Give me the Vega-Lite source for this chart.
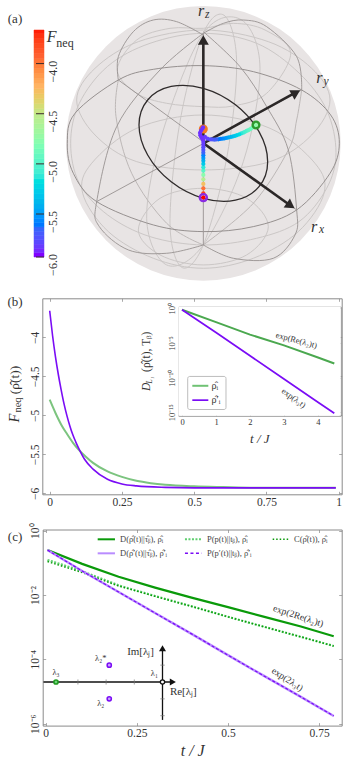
{"$schema":"https://vega.github.io/schema/vega-lite/v6.json","width":353,"height":764,"padding":0,"autosize":"none","background":"white",
"config":{"view":{"stroke":null},"axis":{"zindex":1,"grid":false,"title":null,"domainColor":"#8a8a8a","domainWidth":1,"tickColor":"#aaaaaa","tickSize":-3,"labelFont":"Liberation Serif","labelFontSize":11.5,"labelColor":"#333333","labelOverlap":false,"labelFlush":false,"labelBound":false},"text":{"font":"Liberation Serif","color":"#333333"}},
"resolve":{"scale":{"x":"independent","y":"independent","color":"independent","stroke":"independent"},"axis":{"x":"independent","y":"independent"}},
"layer":[
{"encoding":{"x":{"field":"x","type":"quantitative","axis":null,"scale":{"domain":[-412,412],"range":[66,340.67],"zero":false,"nice":false}},"y":{"field":"y","type":"quantitative","axis":null,"scale":{"domain":[-412,412],"range":[280.6,6],"zero":false,"nice":false}}},
"layer":[
{"data":{"values":[{"x":0,"y":0}]},"mark":{"type":"point","shape":"circle","filled":true,"size":75444,"color":"#e8e4e4","opacity":1}},
{"data":{"values":[
{"c":"up","x":0,"y":345},{"c":"up","x":90,"y":360},{"c":"up","x":185,"y":340},{"c":"up","x":262,"y":270},{"c":"up","x":190,"y":150},{"c":"up","x":90,"y":112},{"c":"up","x":0,"y":110},{"c":"up","x":-110,"y":120},{"c":"up","x":-200,"y":150},{"c":"up","x":-258,"y":220},{"c":"up","x":-200,"y":310},{"c":"up","x":-100,"y":345},
{"c":"lo","x":0,"y":-135},{"c":"lo","x":130,"y":-165},{"c":"lo","x":195,"y":-250},{"c":"lo","x":130,"y":-335},{"c":"lo","x":0,"y":-365},{"c":"lo","x":-130,"y":-335},{"c":"lo","x":-195,"y":-260},{"c":"lo","x":-130,"y":-165},
{"c":"lat1","x":0,"y":340},{"c":"lat1","x":195,"y":305},{"c":"lat1","x":325,"y":225},{"c":"lat1","x":380,"y":130},{"c":"lat1","x":325,"y":25},{"c":"lat1","x":200,"y":-55},{"c":"lat1","x":0,"y":-80},{"c":"lat1","x":-200,"y":-55},{"c":"lat1","x":-325,"y":25},{"c":"lat1","x":-380,"y":130},{"c":"lat1","x":-325,"y":225},{"c":"lat1","x":-195,"y":305},
{"c":"lat2","x":0,"y":85},{"c":"lat2","x":200,"y":45},{"c":"lat2","x":335,"y":-60},{"c":"lat2","x":362,"y":-150},{"c":"lat2","x":285,"y":-265},{"c":"lat2","x":150,"y":-345},{"c":"lat2","x":0,"y":-375},{"c":"lat2","x":-150,"y":-345},{"c":"lat2","x":-285,"y":-265},{"c":"lat2","x":-362,"y":-150},{"c":"lat2","x":-335,"y":-60},{"c":"lat2","x":-200,"y":45},
{"c":"m45","x":0,"y":330},{"c":"m45","x":160,"y":300},{"c":"m45","x":287,"y":211},{"c":"m45","x":370,"y":100},{"c":"m45","x":398,"y":-28},{"c":"m45","x":370,"y":-135},{"c":"m45","x":287,"y":-235},{"c":"m45","x":160,"y":-285},{"c":"m45","x":0,"y":-305},{"c":"m45","x":-160,"y":-280},{"c":"m45","x":-287,"y":-215},{"c":"m45","x":-372,"y":-120},{"c":"m45","x":-398,"y":0},{"c":"m45","x":-372,"y":120},{"c":"m45","x":-287,"y":231},{"c":"m45","x":-160,"y":300},
{"c":"e1","x":0,"y":330},{"c":"e1","x":65,"y":382},{"c":"e1","x":100,"y":240},{"c":"e1","x":70,"y":-45},{"c":"e1","x":0,"y":-305},{"c":"e1","x":-65,"y":-372},{"c":"e1","x":-100,"y":-240},{"c":"e1","x":-70,"y":65},
{"c":"e2","x":0,"y":330},{"c":"e2","x":115,"y":370},{"c":"e2","x":170,"y":225},{"c":"e2","x":120,"y":-55},{"c":"e2","x":0,"y":-305},{"c":"e2","x":-110,"y":-365},{"c":"e2","x":-170,"y":-225},{"c":"e2","x":-120,"y":40}
]},"mark":{"type":"line","interpolate":"cardinal-closed","tension":0,"stroke":"#cbc7c6","strokeWidth":1},"encoding":{"detail":{"field":"c"},"order":{"value":null}}},
{"data":{"values":[
{"c":"b","x":-255,"y":190},{"c":"b","x":-262,"y":80},{"c":"b","x":-215,"y":-90},{"c":"b","x":-110,"y":-240},{"c":"b","x":0,"y":-305},
{"c":"y2","x":295,"y":160},{"c":"y2","x":280,"y":70},{"c":"y2","x":255,"y":-20},{"c":"y2","x":150,"y":-180},{"c":"y2","x":0,"y":-305}
]},"mark":{"type":"line","interpolate":"cardinal","tension":0,"stroke":"#bdb8b7","strokeWidth":1},"encoding":{"detail":{"field":"c"},"order":{"value":null}}},
{"data":{"values":[{"x":-408,"y":0},{"x":-385,"y":90},{"x":-255,"y":190},{"x":-150,"y":222},{"x":0,"y":233},{"x":150,"y":215},{"x":295,"y":160},{"x":382,"y":85},{"x":408,"y":0},{"x":380,"y":-90},{"x":280,"y":-200},{"x":150,"y":-250},{"x":0,"y":-265},{"x":-150,"y":-245},{"x":-320,"y":-175},{"x":-390,"y":-90}]},"mark":{"type":"line","interpolate":"cardinal-closed","tension":0,"stroke":"#8c8786","strokeWidth":0.9},"encoding":{"order":{"value":null}}},
{"data":{"values":[
{"c":"x1","x":0,"y":325},{"c":"x1","x":-80,"y":365},{"c":"x1","x":-150,"y":370},{"c":"x1","x":-210,"y":335},{"c":"x1","x":-255,"y":260},{"c":"x1","x":-255,"y":190},
{"c":"x2","x":0,"y":335},{"c":"x2","x":110,"y":230},{"c":"x2","x":190,"y":110},{"c":"x2","x":255,"y":-20},{"c":"x2","x":280,"y":-200},{"c":"x2","x":275,"y":-275},{"c":"x2","x":210,"y":-345},{"c":"x2","x":90,"y":-345},{"c":"x2","x":0,"y":-305},
{"c":"y1","x":0,"y":330},{"c":"y1","x":60,"y":360},{"c":"y1","x":120,"y":370},{"c":"y1","x":190,"y":350},{"c":"y1","x":280,"y":260},{"c":"y1","x":295,"y":160},
{"c":"y3","x":0,"y":330},{"c":"y3","x":-130,"y":220},{"c":"y3","x":-260,"y":50},{"c":"y3","x":-320,"y":-175},{"c":"y3","x":-312,"y":-250},{"c":"y3","x":-225,"y":-320},{"c":"y3","x":-110,"y":-330},{"c":"y3","x":0,"y":-305},
{"c":"lz","x":0,"y":330},{"c":"lz","x":0,"y":-305},
{"c":"lx","x":-255,"y":190},{"c":"lx","x":280,"y":-200},
{"c":"ly","x":-320,"y":-175},{"c":"ly","x":295,"y":160}
]},"mark":{"type":"line","interpolate":"cardinal","tension":0,"stroke":"#979291","strokeWidth":0.9},"encoding":{"detail":{"field":"c"},"order":{"value":null}}},
{"data":{"values":[{"x":193,"y":-55},{"x":167,"y":35},{"x":96.5,"y":115.5},{"x":0,"y":165},{"x":-96.5,"y":170.5},{"x":-167,"y":130},{"x":-193,"y":55},{"x":-167,"y":-35},{"x":-96.5,"y":-115.5},{"x":0,"y":-165},{"x":96.5,"y":-170.5},{"x":167,"y":-130}]},"mark":{"type":"line","interpolate":"cardinal-closed","tension":0,"stroke":"#2f2b2b","strokeWidth":1.3},"encoding":{"order":{"value":null}}},
{"data":{"values":[{"x":0,"y":0,"x2":0,"y2":300},{"x":0,"y":0,"x2":272,"y2":150},{"x":0,"y":0,"x2":255,"y2":-182}]},"mark":{"type":"rule","stroke":"#2b2727","strokeWidth":2.6},"encoding":{"x2":{"field":"x2"},"y2":{"field":"y2"}}},
{"data":{"values":[{"x":0,"y":310}]},"mark":{"type":"point","shape":"triangle-up","filled":true,"size":120,"color":"#2b2727","opacity":1}},
{"data":{"values":[{"x":278,"y":152}]},"mark":{"type":"point","shape":"triangle-up","filled":true,"size":120,"angle":61,"color":"#2b2727","opacity":1}},
{"data":{"values":[{"x":262,"y":-187}]},"mark":{"type":"point","shape":"triangle-up","filled":true,"size":120,"angle":125,"color":"#2b2727","opacity":1}},
{"data":{"values":[{"x":0,"y":43}]},"mark":{"type":"point","shape":"circle","filled":true,"size":81,"color":"#f47a1f","opacity":1}},
{"data":{"values":[
{"x":0,"y":-163,"f":-3.66},{"x":0,"y":-150,"f":-3.8},{"x":0,"y":-135,"f":-4.0},{"x":0,"y":-122,"f":-4.3},{"x":0,"y":-108,"f":-4.6},{"x":0,"y":-95,"f":-4.8},{"x":0,"y":-82,"f":-5.0},{"x":0,"y":-72,"f":-5.15},{"x":0,"y":-62,"f":-5.3},{"x":0,"y":-52,"f":-5.42},{"x":0,"y":-44,"f":-5.52},{"x":0,"y":-36,"f":-5.6},{"x":0,"y":-28,"f":-5.7},{"x":0,"y":-20,"f":-5.78},{"x":0,"y":-12,"f":-5.83},{"x":0,"y":-4,"f":-5.88},{"x":0,"y":4,"f":-5.9},{"x":-2,"y":12,"f":-5.93},{"x":-6,"y":18,"f":-5.93},{"x":-9,"y":24,"f":-5.93},{"x":-10,"y":31,"f":-5.93},{"x":-7,"y":38,"f":-5.93},{"x":-3,"y":44,"f":-5.93},{"x":-1,"y":48,"f":-5.93},
{"x":158,"y":55,"f":-4.75},{"x":153,"y":51,"f":-4.8},{"x":149,"y":48,"f":-4.84},{"x":144,"y":45,"f":-4.88},{"x":140,"y":42,"f":-4.92},{"x":135,"y":39.5,"f":-4.97},{"x":130,"y":37,"f":-5.01},{"x":125,"y":34.5,"f":-5.06},{"x":120,"y":32,"f":-5.1},{"x":114,"y":29.5,"f":-5.15},{"x":108,"y":27,"f":-5.2},{"x":101,"y":24.5,"f":-5.26},{"x":95,"y":22,"f":-5.3},{"x":89,"y":20.5,"f":-5.35},{"x":83,"y":19,"f":-5.4},{"x":76,"y":17.5,"f":-5.45},{"x":70,"y":16,"f":-5.5},{"x":64,"y":15,"f":-5.54},{"x":58,"y":14,"f":-5.58},{"x":51,"y":13,"f":-5.62},{"x":45,"y":12,"f":-5.66},{"x":39,"y":11.5,"f":-5.7},{"x":33,"y":11,"f":-5.74},{"x":26,"y":11.5,"f":-5.78},{"x":20,"y":12,"f":-5.82},{"x":12,"y":14,"f":-5.86},{"x":5,"y":19,"f":-5.9}
]},"mark":{"type":"point","shape":"circle","filled":true,"size":18,"opacity":1},"encoding":{"color":{"field":"f","type":"quantitative","legend":null,"scale":{"domain":[-6,-5.708,-5.416,-5.124,-4.833,-4.541,-4.249,-3.957,-3.665],"range":["#8000ff","#4062fa","#00b5ec","#40ecd4","#80ffb4","#bfec8e","#ffb462","#ff6232","#ff0000"]}}}},
{"data":{"values":[{"x":0,"y":-163}]},"mark":{"type":"point","shape":"circle","filled":false,"size":50,"stroke":"#8a2be2","strokeWidth":2.4,"opacity":1}},
{"data":{"values":[{"x":158,"y":55}]},"mark":{"type":"point","shape":"circle","filled":false,"size":45,"stroke":"#2e9b2e","strokeWidth":2.4,"opacity":1}},
{"data":{"values":[{"x":-7,"y":396,"text":"r"},{"x":348,"y":195,"text":"r"},{"x":332,"y":-250,"text":"r"},{"x":-455,"y":320,"text":"F"}]},"mark":{"type":"text","fontStyle":"italic","fontSize":16,"align":"center","baseline":"middle"},"encoding":{"text":{"field":"text"}}},
{"data":{"values":[{"x":12,"y":385,"text":"z"},{"x":368,"y":183,"text":"y"},{"x":355,"y":-260,"text":"x"}]},"mark":{"type":"text","fontStyle":"italic","fontSize":11.5,"align":"center","baseline":"middle"},"encoding":{"text":{"field":"text"}}},
{"data":{"values":[{"x":-415,"y":302,"text":"neq"}]},"mark":{"type":"text","fontSize":12,"align":"center","baseline":"middle"},"encoding":{"text":{"field":"text"}}},
{"data":{"values":[{"x":-565,"y":373,"text":"(a)"}]},"mark":{"type":"text","fontSize":13,"align":"center","baseline":"middle"},"encoding":{"text":{"field":"text"}}}
]},
{"encoding":{"y":{"field":"f","type":"quantitative","axis":null,"scale":{"domain":[-6,-5.5,-3.665],"range":[257,214,30],"zero":false,"nice":false}}},
"layer":[
{"data":{"values":[{"f":-6,"g":-5.95},{"f":-5.95,"g":-5.9},{"f":-5.9,"g":-5.85},{"f":-5.85,"g":-5.8},{"f":-5.8,"g":-5.75},{"f":-5.75,"g":-5.7},{"f":-5.7,"g":-5.65},{"f":-5.65,"g":-5.6},{"f":-5.6,"g":-5.55},{"f":-5.55,"g":-5.5},{"f":-5.5,"g":-5.45},{"f":-5.45,"g":-5.4},{"f":-5.4,"g":-5.35},{"f":-5.35,"g":-5.3},{"f":-5.3,"g":-5.25},{"f":-5.25,"g":-5.2},{"f":-5.2,"g":-5.15},{"f":-5.15,"g":-5.1},{"f":-5.1,"g":-5.05},{"f":-5.05,"g":-5},{"f":-5,"g":-4.95},{"f":-4.95,"g":-4.9},{"f":-4.9,"g":-4.85},{"f":-4.85,"g":-4.8},{"f":-4.8,"g":-4.75},{"f":-4.75,"g":-4.7},{"f":-4.7,"g":-4.65},{"f":-4.65,"g":-4.6},{"f":-4.6,"g":-4.55},{"f":-4.55,"g":-4.5},{"f":-4.5,"g":-4.45},{"f":-4.45,"g":-4.4},{"f":-4.4,"g":-4.35},{"f":-4.35,"g":-4.3},{"f":-4.3,"g":-4.25},{"f":-4.25,"g":-4.2},{"f":-4.2,"g":-4.15},{"f":-4.15,"g":-4.1},{"f":-4.1,"g":-4.05},{"f":-4.05,"g":-4},{"f":-4,"g":-3.95},{"f":-3.95,"g":-3.9},{"f":-3.9,"g":-3.85},{"f":-3.85,"g":-3.8},{"f":-3.8,"g":-3.75},{"f":-3.75,"g":-3.7},{"f":-3.7,"g":-3.665}]},
"mark":{"type":"rect","strokeWidth":0.5},"encoding":{"x":{"datum":0,"type":"quantitative","axis":null,"scale":{"domain":[0,1],"range":[34,44],"zero":false,"nice":false}},"x2":{"datum":1},"y2":{"field":"g"},
"color":{"field":"f","type":"quantitative","legend":null,"scale":{"domain":[-6,-5.708,-5.416,-5.124,-4.833,-4.541,-4.249,-3.957,-3.665],"range":["#8000ff","#4062fa","#00b5ec","#40ecd4","#80ffb4","#bfec8e","#ffb462","#ff6232","#ff0000"]}},
"stroke":{"field":"f","type":"quantitative","legend":null,"scale":{"domain":[-6,-5.708,-5.416,-5.124,-4.833,-4.541,-4.249,-3.957,-3.665],"range":["#8000ff","#4062fa","#00b5ec","#40ecd4","#80ffb4","#bfec8e","#ffb462","#ff6232","#ff0000"]}}}},
{"data":{"values":[{"f":-4},{"f":-4.5},{"f":-5},{"f":-5.5},{"f":-6}]},"mark":{"type":"rule","stroke":"#3a2a2a","strokeWidth":1},"encoding":{"x":{"datum":0.2,"type":"quantitative","axis":null,"scale":{"domain":[0,1],"range":[34,44],"zero":false,"nice":false}},"x2":{"datum":1}}},
{"data":{"values":[{"f":-4,"text":"−4.0"},{"f":-4.5,"text":"−4.5"},{"f":-5,"text":"−5.0"},{"f":-5.5,"text":"−5.5"},{"f":-6,"text":"−6.0"}]},"mark":{"type":"text","fontSize":12,"angle":270,"align":"center","baseline":"middle","dx":-8},"encoding":{"x":{"datum":1.9,"type":"quantitative","axis":null,"scale":{"domain":[0,1],"range":[34,44],"zero":false,"nice":false}},"text":{"field":"text"}}}
]},
{"encoding":{"x":{"field":"x","type":"quantitative","axis":{"orient":"bottom","offset":-269.7,"values":[0,0.25,0.5,0.75,1],"labelExpr":"''+datum.value","labelPadding":5},"scale":{"domain":[-0.0256,1.0104],"range":[42.3,341.7],"zero":false,"nice":false}},"y":{"field":"y","type":"quantitative","axis":{"orient":"left","offset":-42.3,"values":[-4,-4.5,-5,-5.5,-6],"labelAngle":270,"labelAlign":"center","labelBaseline":"bottom","labelPadding":5,"labelExpr":"replace(''+datum.value,'-','−')"},"scale":{"domain":[-6.0128,-3.5],"range":[494.3,298.3],"zero":false,"nice":false}}},
"layer":[
{"data":{"values":[{"x":0,"y":-4.8},{"x":0.02,"y":-4.97},{"x":0.04,"y":-5.12},{"x":0.06,"y":-5.24},{"x":0.08,"y":-5.35},{"x":0.1,"y":-5.44},{"x":0.125,"y":-5.53},{"x":0.15,"y":-5.61},{"x":0.2,"y":-5.72},{"x":0.25,"y":-5.79},{"x":0.3,"y":-5.84},{"x":0.35,"y":-5.87},{"x":0.4,"y":-5.89},{"x":0.5,"y":-5.91},{"x":0.6,"y":-5.92},{"x":0.75,"y":-5.93},{"x":0.99,"y":-5.93}]},"mark":{"type":"line","interpolate":"monotone","stroke":"#7cc47f","strokeWidth":2}},
{"data":{"values":[{"x":0,"y":-3.66},{"x":0.01,"y":-3.98},{"x":0.02,"y":-4.25},{"x":0.03,"y":-4.48},{"x":0.04,"y":-4.68},{"x":0.05,"y":-4.86},{"x":0.06,"y":-5.01},{"x":0.07,"y":-5.14},{"x":0.08,"y":-5.25},{"x":0.09,"y":-5.34},{"x":0.1,"y":-5.42},{"x":0.12,"y":-5.56},{"x":0.15,"y":-5.69},{"x":0.2,"y":-5.82},{"x":0.25,"y":-5.88},{"x":0.3,"y":-5.905},{"x":0.4,"y":-5.924},{"x":0.5,"y":-5.93},{"x":0.75,"y":-5.93},{"x":0.99,"y":-5.93}]},"mark":{"type":"line","interpolate":"monotone","stroke":"#7a0cf5","strokeWidth":1.6}},
{"data":{"values":[{"x":-0.12,"y":-3.55,"text":"(b)"}]},"mark":{"type":"text","fontSize":13,"align":"center","baseline":"middle"},"encoding":{"text":{"field":"text"}}},
{"data":{"values":[{"x":-0.12,"y":-5.035,"text":"F"}]},"mark":{"type":"text","fontSize":14.5,"fontStyle":"italic","angle":270,"align":"center","baseline":"middle"},"encoding":{"text":{"field":"text"}}},
{"data":{"values":[{"x":-0.108,"y":-4.868,"text":"neq"}]},"mark":{"type":"text","fontSize":10.5,"angle":270,"align":"center","baseline":"middle"},"encoding":{"text":{"field":"text"}}},
{"data":{"values":[{"x":-0.12,"y":-4.547,"text":"(ρ̂(t))"}]},"mark":{"type":"text","fontSize":13.5,"angle":270,"align":"center","baseline":"middle"},"encoding":{"text":{"field":"text"}}}
]},
{"data":{"values":[{"x":0,"y":-4}]},"mark":{"type":"point","opacity":0},"encoding":{"x":{"field":"x","type":"quantitative","axis":{"orient":"top","offset":-298.3,"values":[0,0.25,0.5,0.75,1],"labels":false},"scale":{"domain":[-0.0256,1.0104],"range":[42.3,341.7],"zero":false,"nice":false}},"y":{"field":"y","type":"quantitative","axis":{"orient":"right","offset":-11.3,"values":[-4,-4.5,-5,-5.5,-6],"labels":false},"scale":{"domain":[-6.0128,-3.5],"range":[494.3,298.3],"zero":false,"nice":false}}}},
{"encoding":{"x":{"field":"x","type":"quantitative","axis":{"orient":"bottom","offset":-348.3,"values":[0,1,2,3,4],"labelExpr":"''+datum.value","labelFontSize":8.5,"labelPadding":5},"scale":{"domain":[-0.109,4.668],"range":[178.3,340.7],"zero":false,"nice":false}},"y":{"field":"y","type":"quantitative","axis":{"orient":"left","offset":-178.3,"values":[1,1e-5,1e-10,1e-15],"labelAngle":270,"labelAlign":"center","labelBaseline":"bottom","labelFontSize":8.5,"labelPadding":5,"labelExpr":"{'0':'10⁰','-5':'10⁻⁵','-10':'10⁻¹⁰','-15':'10⁻¹⁵'}[''+round(log(datum.value)/LN10)]"},"scale":{"type":"log","base":10,"domain":[3.2e-16,1.7],"range":[415.7,306.7],"nice":false}}},
"layer":[
{"data":{"values":[{"x":-0.109,"x2":4.668,"y":1.7,"y2":3.2e-16}]},"mark":{"type":"rect","fill":"white"},"encoding":{"x2":{"field":"x2"},"y2":{"field":"y2"}}},
{"data":{"values":[{"x":0,"y":0.63},{"x":1,"y":0.01},{"x":2,"y":1.58e-4},{"x":3,"y":4.5e-6},{"x":4,"y":7.9e-8},{"x":4.48,"y":1.1e-8}]},"mark":{"type":"line","stroke":"#4ba84f","strokeWidth":2}},
{"data":{"values":[{"x":0,"y":0.63},{"x":1,"y":3.2e-4},{"x":2,"y":1.4e-7},{"x":3,"y":6.3e-11},{"x":4,"y":2.8e-14},{"x":4.48,"y":7.1e-16}]},"mark":{"type":"line","stroke":"#7a0cf5","strokeWidth":1.7}},
{"data":{"values":[{"x":0.168,"x2":1.294,"y":1.48e-10,"y2":2.5e-15}]},"mark":{"type":"rect","fill":"white","stroke":"#bdbdbd","strokeWidth":1,"cornerRadius":2},"encoding":{"x2":{"field":"x2"},"y2":{"field":"y2"}}},
{"data":{"values":[{"x":0.303,"x2":0.774,"y":6.6e-12}]},"mark":{"type":"rule","stroke":"#6fc274","strokeWidth":2},"encoding":{"x2":{"field":"x2"}}},
{"data":{"values":[{"x":0.303,"x2":0.774,"y":5.6e-14}]},"mark":{"type":"rule","stroke":"#7a0cf5","strokeWidth":1.7},"encoding":{"x2":{"field":"x2"}}},
{"data":{"values":[{"x":0.87,"y":6.6e-12,"text":"ρ̂ᵢ"},{"x":0.87,"y":5.6e-14,"text":"ρ̂′ᵢ"}]},"mark":{"type":"text","fontSize":10,"align":"left","baseline":"middle"},"encoding":{"text":{"field":"text"}}},
{"data":{"values":[{"x":3.37,"y":2.63e-5,"text":"exp(Re(λ₂)t)"}]},"mark":{"type":"text","fontSize":8.5,"angle":15,"align":"center","baseline":"middle"},"encoding":{"text":{"field":"text"}}},
{"data":{"values":[{"x":3.29,"y":1.2e-13,"text":"exp(λ₃t)"}]},"mark":{"type":"text","fontSize":8.5,"angle":36,"align":"center","baseline":"middle"},"encoding":{"text":{"field":"text"}}},
{"data":{"values":[{"x":-1.03,"y":4.7e-12,"text":"D"}]},"mark":{"type":"text","fontSize":11.5,"fontStyle":"italic","angle":270,"align":"center","baseline":"middle"},"encoding":{"text":{"field":"text"}}},
{"data":{"values":[{"x":-1.03,"y":5.4e-7,"text":"(ρ̂(t), Tᵦ)"}]},"mark":{"type":"text","fontSize":11.5,"angle":270,"align":"center","baseline":"middle"},"encoding":{"text":{"field":"text"}}},
{"data":{"values":[{"x":-0.95,"y":4.4e-11,"text":"L₁"}]},"mark":{"type":"text","fontSize":7.5,"fontStyle":"italic","angle":270,"align":"center","baseline":"middle"},"encoding":{"text":{"field":"text"}}},
{"data":{"values":[{"x":2.29,"y":1.3e-19,"text":"t / J"}]},"mark":{"type":"text","fontSize":13,"fontStyle":"italic","align":"center","baseline":"middle"},"encoding":{"text":{"field":"text"}}}
]},
{"data":{"values":[{"x":1,"y":1e-5}]},"mark":{"type":"point","opacity":0},"encoding":{"x":{"field":"x","type":"quantitative","axis":{"orient":"top","offset":-306.7,"values":[0,1,2,3,4],"labels":false},"scale":{"domain":[-0.109,4.668],"range":[178.3,340.7],"zero":false,"nice":false}},"y":{"field":"y","type":"quantitative","axis":{"orient":"right","offset":-12.3,"values":[1,1e-5,1e-10,1e-15],"labels":false},"scale":{"type":"log","base":10,"domain":[3.2e-16,1.7],"range":[415.7,306.7],"nice":false}}}},
{"encoding":{"x":{"field":"x","type":"quantitative","axis":{"orient":"bottom","offset":-38.4,"values":[0,0.25,0.5,0.75],"labelExpr":"''+datum.value","labelPadding":5},"scale":{"domain":[-0.0082,0.8119],"range":[42.7,341.7],"zero":false,"nice":false}},"y":{"field":"y","type":"quantitative","axis":{"orient":"left","offset":-42.7,"values":[1,0.01,1e-4,1e-6],"labelAngle":270,"labelAlign":"center","labelBaseline":"bottom","labelPadding":5,"labelExpr":"{'0':'10⁰','-2':'10⁻²','-4':'10⁻⁴','-6':'10⁻⁶'}[''+round(log(datum.value)/LN10)]"},"scale":{"type":"log","base":10,"domain":[8.7e-7,1.09],"range":[725.6,529.5],"nice":false}}},
"layer":[
{"data":{"values":[{"x":0.005,"y":0.25},{"x":0.1,"y":0.093},{"x":0.2,"y":0.037},{"x":0.3,"y":0.017},{"x":0.4,"y":8.3e-3},{"x":0.5,"y":4.2e-3},{"x":0.6,"y":2.1e-3},{"x":0.7,"y":1.05e-3},{"x":0.79,"y":5.2e-4}]},"mark":{"type":"line","stroke":"#0a9a0a","strokeWidth":2.2}},
{"data":{"values":[{"x":0.005,"y":0.123},{"x":0.1,"y":0.055},{"x":0.2,"y":0.02},{"x":0.3,"y":9.3e-3},{"x":0.4,"y":4.5e-3},{"x":0.5,"y":2.1e-3},{"x":0.6,"y":1.02e-3},{"x":0.7,"y":5e-4},{"x":0.79,"y":2.6e-4}]},"mark":{"type":"line","stroke":"#5fcf6f","strokeWidth":2.2,"strokeDash":[2,1.5]}},
{"data":{"values":[{"x":0.005,"y":0.11},{"x":0.1,"y":0.05},{"x":0.2,"y":0.019},{"x":0.3,"y":9.1e-3},{"x":0.4,"y":4.4e-3},{"x":0.5,"y":2.1e-3},{"x":0.6,"y":1.02e-3},{"x":0.7,"y":5e-4},{"x":0.79,"y":2.6e-4}]},"mark":{"type":"line","stroke":"#0a9a0a","strokeWidth":1.4,"strokeDash":[1.5,2]}},
{"data":{"values":[{"x":0.005,"y":0.25},{"x":0.1,"y":0.056},{"x":0.2,"y":0.0124},{"x":0.3,"y":2.75e-3},{"x":0.4,"y":6.2e-4},{"x":0.5,"y":1.35e-4},{"x":0.6,"y":3e-5},{"x":0.7,"y":6.8e-6},{"x":0.79,"y":1.74e-6}]},"mark":{"type":"line","stroke":"#b98cff","strokeWidth":2.4}},
{"data":{"values":[{"x":0.005,"y":0.25},{"x":0.1,"y":0.056},{"x":0.2,"y":0.0124},{"x":0.3,"y":2.75e-3},{"x":0.4,"y":6.2e-4},{"x":0.5,"y":1.35e-4},{"x":0.6,"y":3e-5},{"x":0.7,"y":6.8e-6},{"x":0.79,"y":1.74e-6}]},"mark":{"type":"line","stroke":"#7a0cf5","strokeWidth":1.2,"strokeDash":[3,2]}},
{"data":{"values":[{"x":0.1426,"x2":0.19,"y":0.54}]},"mark":{"type":"rule","stroke":"#0a9a0a","strokeWidth":2},"encoding":{"x2":{"field":"x2"}}},
{"data":{"values":[{"x":0.382,"x2":0.4279,"y":0.54}]},"mark":{"type":"rule","stroke":"#5fcf6f","strokeWidth":2,"strokeDash":[2,1.5]},"encoding":{"x2":{"field":"x2"}}},
{"data":{"values":[{"x":0.6226,"x2":0.668,"y":0.54}]},"mark":{"type":"rule","stroke":"#0a9a0a","strokeWidth":1.5,"strokeDash":[1.5,2]},"encoding":{"x2":{"field":"x2"}}},
{"data":{"values":[{"x":0.1426,"x2":0.19,"y":0.198}]},"mark":{"type":"rule","stroke":"#b98cff","strokeWidth":2},"encoding":{"x2":{"field":"x2"}}},
{"data":{"values":[{"x":0.382,"x2":0.4279,"y":0.198}]},"mark":{"type":"rule","stroke":"#7a0cf5","strokeWidth":1.4,"strokeDash":[3,2.5]},"encoding":{"x2":{"field":"x2"}}},
{"data":{"values":[{"x":0.2038,"y":0.54,"text":"D(ρ̂(t)||τ̂ᵦ), ρ̂ᵢ"},{"x":0.4424,"y":0.54,"text":"P(p(t)||tᵦ), ρ̂ᵢ"},{"x":0.681,"y":0.54,"text":"C(ρ̂(t)), ρ̂ᵢ"},{"x":0.2038,"y":0.198,"text":"D(ρ̂′(t)||τ̂ᵦ), ρ̂′ᵢ"},{"x":0.4424,"y":0.198,"text":"P(p′(t)||tᵦ), ρ̂′ᵢ"}]},"mark":{"type":"text","fontSize":8.5,"align":"left","baseline":"middle","color":"#444444"},"encoding":{"text":{"field":"text"}}},
{"data":{"values":[{"x":0.693,"y":2.22e-3,"text":"exp(2Re(λ₂)t)"}]},"mark":{"type":"text","fontSize":9.5,"angle":18,"align":"center","baseline":"middle"},"encoding":{"text":{"field":"text"}}},
{"data":{"values":[{"x":0.663,"y":2.4e-5,"text":"exp(2λ₃t)"}]},"mark":{"type":"text","fontSize":9.5,"angle":33,"align":"center","baseline":"middle"},"encoding":{"text":{"field":"text"}}},
{"data":{"values":[{"x":-0.084,"y":0.65,"text":"(c)"}]},"mark":{"type":"text","fontSize":13,"align":"center","baseline":"middle"},"encoding":{"text":{"field":"text"}}},
{"data":{"values":[{"x":0.4032,"y":1.44e-7,"text":"t / J"}]},"mark":{"type":"text","fontSize":16,"fontStyle":"italic","align":"center","baseline":"middle"},"encoding":{"text":{"field":"text"}}}
]},
{"data":{"values":[{"x":0,"y":1e-2}]},"mark":{"type":"point","opacity":0},"encoding":{"x":{"field":"x","type":"quantitative","axis":{"orient":"top","offset":-529.5,"values":[0,0.25,0.5,0.75],"labels":false},"scale":{"domain":[-0.0082,0.8119],"range":[42.7,341.7],"zero":false,"nice":false}},"y":{"field":"y","type":"quantitative","axis":{"orient":"right","offset":-11.3,"values":[1,0.01,1e-4,1e-6],"labels":false},"scale":{"type":"log","base":10,"domain":[8.7e-7,1.09],"range":[725.6,529.5],"nice":false}}}},
{"encoding":{"x":{"field":"x","type":"quantitative","axis":null,"scale":{"domain":[-3.4,0],"range":[56,162.5],"zero":false,"nice":false}},"y":{"field":"y","type":"quantitative","axis":null,"scale":{"domain":[-1,1],"range":[698.85,665.15],"zero":false,"nice":false}}},
"layer":[
{"data":{"values":[{"x":-3.8,"x2":0.3,"y":0,"y2":0},{"x":0,"x2":0,"y":-2.25,"y2":2}]},"mark":{"type":"rule","stroke":"#111111","strokeWidth":1.3},"encoding":{"x2":{"field":"x2"},"y2":{"field":"y2"}}},
{"data":{"values":[{"x":-2.7,"x2":-2.7,"y":-0.15,"y2":0.15},{"x":-1.8,"x2":-1.8,"y":-0.15,"y2":0.15},{"x":-0.9,"x2":-0.9,"y":-0.15,"y2":0.15},{"x":-0.07,"x2":0.07,"y":1,"y2":1},{"x":-0.07,"x2":0.07,"y":-1,"y2":-1},{"x":-0.07,"x2":0.07,"y":-2,"y2":-2}]},"mark":{"type":"rule","stroke":"#777777","strokeWidth":0.7},"encoding":{"x2":{"field":"x2"},"y2":{"field":"y2"}}},
{"data":{"values":[{"x":0.33,"y":0}]},"mark":{"type":"point","shape":"triangle-right","filled":true,"size":49,"color":"#111111","opacity":1}},
{"data":{"values":[{"x":0,"y":2}]},"mark":{"type":"point","shape":"triangle-up","filled":true,"size":49,"color":"#111111","opacity":1}},
{"data":{"values":[{"x":-3.4,"y":0}]},"mark":{"type":"point","shape":"circle","filled":true,"size":18,"fill":"#6fd47a","stroke":"#1f9a1f","strokeWidth":1.5,"opacity":1}},
{"data":{"values":[{"x":-1.7,"y":1},{"x":-1.7,"y":-1}]},"mark":{"type":"point","shape":"circle","filled":true,"size":18,"fill":"#c9a0ff","stroke":"#7a0cf5","strokeWidth":1.5,"opacity":1}},
{"data":{"values":[{"x":0,"y":0}]},"mark":{"type":"point","shape":"circle","filled":true,"size":18,"fill":"white","stroke":"#111111","strokeWidth":1.3,"opacity":1}},
{"data":{"values":[{"x":-0.7,"y":1.8,"text":"Im[λⱼ]"},{"x":0.665,"y":-0.61,"text":"Re[λⱼ]"}]},"mark":{"type":"text","fontSize":11,"align":"center","baseline":"middle"},"encoding":{"text":{"field":"text"}}},
{"data":{"values":[{"x":-3.4,"y":0.61,"text":"λ₃"},{"x":-1.97,"y":1.4,"text":"λ₂*"},{"x":-1.97,"y":-1.23,"text":"λ₂"},{"x":-0.26,"y":0.55,"text":"λ₁"}]},"mark":{"type":"text","fontSize":8.5,"align":"center","baseline":"middle"},"encoding":{"text":{"field":"text"}}}
]}
]}
